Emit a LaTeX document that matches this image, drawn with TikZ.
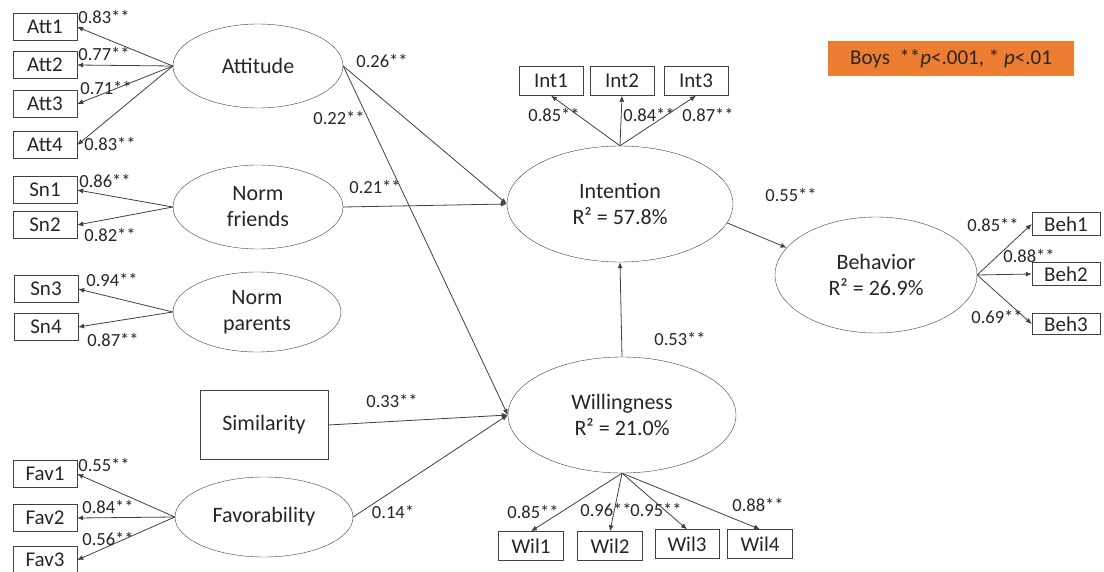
\documentclass[tikz,border=0pt]{standalone}
\usepackage{fontspec}
\setmainfont{Carlito}
\usetikzlibrary{arrows.meta,shapes.geometric}
\definecolor{lineg}{HTML}{404040}
\definecolor{txt}{HTML}{262626}
\definecolor{boyorange}{HTML}{ED7D31}
\begin{document}
\begin{tikzpicture}[x=1pt,y=-1pt,
  latent/.style={draw=lineg,ellipse,inner sep=0pt,align=center,text=txt,
    font=\fontsize{22}{26}\selectfont},
  item/.style={draw=lineg,rectangle,minimum width=64pt,minimum height=27pt,
    inner sep=0pt,text=txt,font=\fontsize{21}{24}\selectfont},
  coef/.style={inner sep=0pt,text=txt,font=\fontsize{18.5}{20}\selectfont},
  flow/.style={-{Latex[length=6pt,width=5pt]},draw=lineg,line width=0.8pt}]
\useasboundingbox (0,0) rectangle (1104,572);
\node[latent,minimum width=170pt,minimum height=84pt] (att) at (258,66) {Attitude};
\node[latent,minimum width=170pt,minimum height=84pt] (nfr) at (258,207) {Norm\\friends};
\node[latent,minimum width=168pt,minimum height=80pt] (npa) at (257,312) {Norm\\parents};
\node[draw=lineg,minimum width=128pt,minimum height=69pt,inner sep=0pt,text=txt,
  font=\fontsize{22}{26}\selectfont] (sim) at (264,425) {Similarity};
\node[latent,minimum width=178pt,minimum height=80pt] (fav) at (264,517) {Favorability};
\node[latent,minimum width=226pt,minimum height=116pt] (int) at (620,204) {Intention\\R² = 57.8\%};
\node[latent,minimum width=228pt,minimum height=116pt] (wil) at (622,415) {Willingness\\R² = 21.0\%};
\node[latent,minimum width=202pt,minimum height=116pt] (beh) at (876,275) {Behavior\\R² = 26.9\%};
\node[fill=boyorange,minimum width=246pt,minimum height=35pt,inner sep=0pt,text=txt,
  font=\fontsize{21}{24}\selectfont] (key) at (951,59) {Boys\ \ **\textit{p}<.001, * \textit{p}<.01};
\node[item] (att1) at (45,27) {Att1};
\node[item] (att2) at (45,65) {Att2};
\node[item] (att3) at (45,104) {Att3};
\node[item] (att4) at (45,145) {Att4};
\node[item] (sn1) at (45,190) {Sn1};
\node[item] (sn2) at (45,225) {Sn2};
\node[item] (sn3) at (46,289) {Sn3};
\node[item] (sn4) at (46,327) {Sn4};
\node[item] (fav1) at (45,474) {Fav1};
\node[item] (fav2) at (45,518) {Fav2};
\node[item] (fav3) at (45,560) {Fav3};
\node[item,minimum height=29pt] (int1) at (551,81) {Int1};
\node[item,minimum height=29pt] (int2) at (622,81) {Int2};
\node[item,minimum height=29pt] (int3) at (696,81) {Int3};
\node[item,minimum width=68pt,minimum height=23pt] (beh1) at (1066,224) {Beh1};
\node[item,minimum width=68pt,minimum height=23pt] (beh2) at (1066,274) {Beh2};
\node[item,minimum width=68pt,minimum height=21pt] (beh3) at (1066,324) {Beh3};
\node[item,minimum width=65pt,minimum height=29pt] (wil1) at (531,546) {Wil1};
\node[item,minimum width=65pt,minimum height=29pt] (wil2) at (610,546) {Wil2};
\node[item,minimum width=64pt,minimum height=29pt] (wil3) at (687,544) {Wil3};
\node[item,minimum width=65pt,minimum height=29pt] (wil4) at (760,544) {Wil4};
\foreach \i in {1,...,4} \draw[flow] (att.west) -- (att\i.east);
\foreach \i in {1,2} \draw[flow] (nfr.west) -- (sn\i.east);
\foreach \i in {3,4} \draw[flow] (npa.west) -- (sn\i.east);
\foreach \i in {1,2,3} \draw[flow] (fav.west) -- (fav\i.east);
\foreach \i in {1,2,3} \draw[flow] (int.north) -- (int\i.south);
\foreach \i in {1,2,3} \draw[flow] (beh.east) -- (beh\i.west);
\foreach \i in {1,...,4} \draw[flow] (wil.south) -- (wil\i.north);
\draw[flow] (att.east) -- (int.west);
\draw[flow] (att.east) -- (wil.west);
\draw[flow] (nfr.east) -- (int.west);
\draw[flow] (sim.east) -- (wil.west);
\draw[flow] (fav.east) -- (wil.west);
\draw[flow] (wil.north) -- (int.south);
\draw[flow] (int.-10) -- (beh.163);
\node[coef] (c-att1) at (104,17) {0.83**};
\node[coef] (c-att2) at (104,54) {0.77**};
\node[coef] (c-att3) at (106,88) {0.71**};
\node[coef] (c-att4) at (110,144) {0.83**};
\node[coef] (c-sn1) at (105,181) {0.86**};
\node[coef] (c-sn2) at (110,235) {0.82**};
\node[coef] (c-sn3) at (112,280) {0.94**};
\node[coef] (c-sn4) at (113,340) {0.87**};
\node[coef] (c-fav1) at (104,465) {0.55**};
\node[coef] (c-fav2) at (108,507) {0.84**};
\node[coef] (c-fav3) at (108,539) {0.56**};
\node[coef] (c-attint) at (382,61) {0.26**};
\node[coef] (c-attwil) at (339,118) {0.22**};
\node[coef] (c-nfrint) at (375,187) {0.21**};
\node[coef] (c-simwil) at (392,401) {0.33**};
\node[coef] (c-favwil) at (393,512) {0.14*};
\node[coef] (c-intbeh) at (791,195) {0.55**};
\node[coef] (c-wilint) at (680,339) {0.53**};
\node[coef] (c-int1) at (554,115) {0.85**};
\node[coef] (c-int2) at (649,115) {0.84**};
\node[coef] (c-int3) at (708,115) {0.87**};
\node[coef] (c-beh1) at (993,225) {0.85**};
\node[coef] (c-beh2) at (1029,256) {0.88**};
\node[coef] (c-beh3) at (997,317) {0.69**};
\node[coef] (c-wil1) at (533,512) {0.85**};
\node[coef] (c-wil2) at (606,510) {0.96**};
\node[coef] (c-wil3) at (656,510) {0.95**};
\node[coef] (c-wil4) at (758,505) {0.88**};
\end{tikzpicture}
\end{document}
